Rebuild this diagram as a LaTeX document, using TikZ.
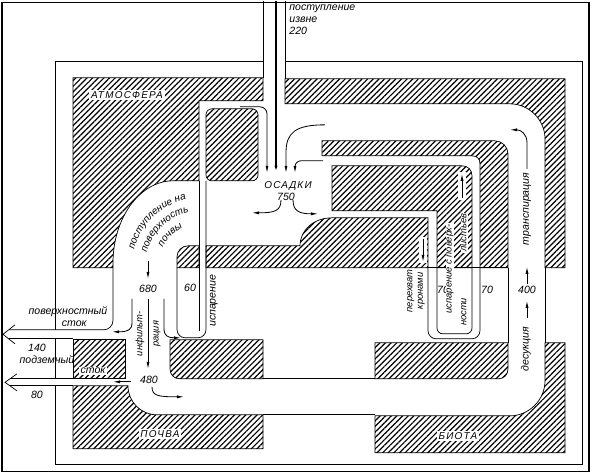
\documentclass[tikz,border=0pt]{standalone}
\usepackage{fontspec}
\setmainfont{Liberation Sans}
\usetikzlibrary{arrows.meta,patterns.meta,decorations.text}

\begin{document}
\begin{tikzpicture}[
    x=0.03cm, y=-0.03cm,
    ecoHatch/.style={draw, line width=0.6pt, pattern={Lines[angle=45,distance=3.4pt,line width=1pt]}},
    ecoWall/.style={line width=0.6pt},
    ecoFlow/.style={line width=0.7pt, -{Latex[length=6pt,width=2.6pt]}},
    ecoText/.style={font=\itshape\fontsize{9}{10}\selectfont, inner sep=1pt},
    ecoSmall/.style={font=\itshape\fontsize{8}{9}\selectfont, inner sep=0.8pt},
    ecoTag/.style={fill=white, inner sep=1.5pt, font=\itshape\fontsize{8.5}{10}\selectfont\addfontfeature{LetterSpace=12}}
]
% frame
\fill[white] (0,0) rectangle (592,474);
\draw[line width=1pt] (2,2) rectangle (589,471);
\draw[ecoWall] (263,61) -- (55,61) -- (55,464) -- (582,464) -- (582,61) -- (285,61);

% atmosphere
\draw[ecoHatch] (73,77) -- (263,77) -- (263,100) -- (199,100) -- (199,180) -- (173,180)
    .. controls (140,180) and (113,217) .. (113,262) -- (113,267) -- (73,267) -- cycle;
\draw[ecoHatch, rounded corners=5] (206,108) -- (258,108) -- (258,180) -- (206,180) -- cycle;
\draw[ecoHatch] (285,78) -- (565,78) -- (565,267) -- (545,267) -- (545,138)
    .. controls (545,119) and (529,103) .. (510,103) -- (285,103) -- cycle;
\draw[ecoHatch] (322,140) -- (495,140) .. controls (502,140) and (508,146) .. (508,153)
    -- (508,267) -- (480,267) -- (480,163) .. controls (480,158) and (477,155) .. (472,155) -- (322,155) -- cycle;
\draw[ecoHatch] (332,165) -- (462,165) .. controls (468,165) and (472,169) .. (472,175)
    -- (472,267) -- (437,267) -- (437,210) -- (332,210) -- cycle;
\draw[ecoHatch] (177,267) -- (177,256) .. controls (177,250) and (182,245) .. (188,245) -- (199,245) -- (199,267) -- cycle;
\draw[ecoHatch] (206,245) -- (300,245) .. controls (300,229) and (314,217) .. (332,217)
    -- (428,217) -- (428,267) -- (206,267) -- cycle;

% soil
\draw[ecoHatch] (73,339) -- (125,339) -- (125,378) -- (73,378) -- cycle;
\draw[ecoHatch] (170,339) -- (263,339) -- (263,378) -- (180,378) .. controls (174,378) and (170,374) .. (170,368) -- cycle;
\draw[ecoHatch] (73,385) -- (128,385) .. controls (128,401) and (141,414) .. (157,414)
    -- (263,414) -- (263,448) -- (73,448) -- cycle;

% biota
\draw[ecoHatch] (375,342) -- (508,342) -- (508,368) .. controls (508,374) and (504,378) .. (498,378) -- (375,378) -- cycle;
\draw[ecoHatch] (545,342) -- (565,342) -- (565,452) -- (375,452) -- (375,415) -- (510,415)
    .. controls (529,415) and (545,399) .. (545,380) -- cycle;

% channel walls
\draw[ecoWall] (263,0) -- (263,77) (285,0) -- (285,78);
\draw[ecoWall] (199,180) -- (199,330);
\draw[ecoWall, rounded corners=7] (177,267) -- (177,337) -- (206,337) -- (206,180);
\draw[ecoWall, rounded corners=7] (428,267) -- (428,338) -- (480,338) -- (480,267);
\draw[ecoWall, rounded corners=5] (437,267) -- (437,333) -- (472,333) -- (472,267);
\draw[ecoWall] (428,267) -- (508,267);
\draw[ecoWall] (508,267) -- (508,342) (545,267) -- (545,342);
\draw[ecoWall] (263,378) -- (375,378) (263,414) -- (375,414);

% runoff arrows
\fill[white] (9,329) rectangle (73,338) (10,378) rectangle (73,385);
\draw[ecoWall, rounded corners=8] (113,267) -- (113,329) -- (9,329);
\draw[ecoWall] (9,338) -- (73,338) (10,378) -- (73,378) (10,385) -- (73,385);
\draw[ecoWall] (15,324) -- (3,333.5) -- (15,343);
\draw[ecoWall] (17,373) -- (5,381.5) -- (17,390);

% flows
\draw[ecoFlow, line width=1.4pt] (276,0) -- (276,172);
\draw[ecoFlow, rounded corners=6] (240,106) -- (267,106) -- (267,172);
\draw[ecoFlow] (325,124) .. controls (295,124) and (286,132) .. (286,152) -- (286,172);
\draw[ecoFlow, rounded corners=5] (323,160) -- (295,160) -- (295,172);
\draw[ecoFlow] (281,199) .. controls (281,210) and (275,212) .. (252,212);
\draw[ecoFlow] (293,199) .. controls (293,210) and (299,213) .. (318,213);
\draw[ecoFlow] (148,260) -- (148,278);
\draw[ecoFlow] (148,298) -- (148,368);
\draw[ecoFlow] (132,298) -- (132,322) .. controls (132,329) and (128,331) .. (112,331);
\draw[ecoFlow] (164,298) -- (164,328) .. controls (164,335) and (168,337) .. (181,337);
\draw[ecoFlow] (152,386) .. controls (152,395) and (158,396) .. (184,396);
\draw[ecoFlow] (131,381) -- (113,381);
\fill[white] (419,236) rectangle (427,262);
\draw[ecoFlow] (423,238) -- (423,261);
\fill[white] (458,171) rectangle (466,199);
\draw[ecoFlow] (462,197) -- (462,173);
\draw[ecoFlow] (527,283) -- (527,266);
\draw[ecoFlow] (527,168) -- (527,142) .. controls (527,133) and (521,129) .. (510,129);
\draw[ecoFlow] (527,317) -- (527,300);

% labels
\node[ecoText, anchor=north west, align=left] (inLabel) at (288,3) {поступление\\извне\\220};
\node[ecoTag] (atmLabel) at (127,94) {АТМОСФЕРА};
\node[ecoTag] (soilLabel) at (160,433) {ПОЧВА};
\node[ecoTag] (biotaLabel) at (458,435) {БИОТА};
\node[ecoTag, fill=none] (precipLabel) at (288,185) {ОСАДКИ};
\node[ecoText] (precipValue) at (286,196) {750};
\path[decorate, decoration={text along path, text align=center,
    text={|\itshape\fontsize{8.5}{10}\selectfont|поступление на}}] (132,266) arc[start angle=180, end angle=272, radius=69];
\path[decorate, decoration={text along path, text align=center,
    text={|\itshape\fontsize{8.5}{10}\selectfont|поверхность}}] (145,266) arc[start angle=180, end angle=272, radius=56];
\path[decorate, decoration={text along path, text align=center,
    text={|\itshape\fontsize{8.5}{10}\selectfont|почвы}}] (158,266) arc[start angle=180, end angle=272, radius=43];
\node[ecoText] (v680) at (148,288) {680};
\node[ecoText] (v60) at (190,287) {60};
\node[ecoText] (v480) at (149,379) {480};
\node[ecoText, rotate=90] (evapLabel) at (214,300) {испарение};
\node[ecoSmall, rotate=90] (infA) at (140,333) {инфильт-};
\node[ecoSmall, rotate=90] (infB) at (157,333) {рация};
\node[ecoText, align=center] (surfLabel) at (68,316) {поверхностный\\\hspace*{1.2em}сток};
\node[ecoText] (v140) at (37,347) {140};
\node[ecoText] (subLabel) at (47,359) {подземный};
\node[ecoText, fill=white] (subLabelB) at (93,370) {сток};
\node[ecoText] (v80) at (37,394) {80};
\node[ecoSmall, rotate=90, align=center] (interLabel) at (416,290) {перехват\\кронами};
\node[ecoText] (v70a) at (443,289) {70};
\node[ecoText] (v70b) at (487,289) {70};
\node[ecoText] (v400) at (527,289) {400};
\node[ecoSmall, rotate=90, fill=white] (leafA) at (450,268) {испарение с поверх-};
\node[ecoSmall, rotate=90] (leafB) at (464,311) {ности};
\node[ecoSmall, rotate=90, fill=white] (leafC) at (464,232) {листьев};
\node[ecoText, rotate=90] (transLabel) at (527,208) {транспирация};
\node[ecoText, rotate=90] (desLabel) at (526,348) {десукция};
\end{tikzpicture}
\end{document}
